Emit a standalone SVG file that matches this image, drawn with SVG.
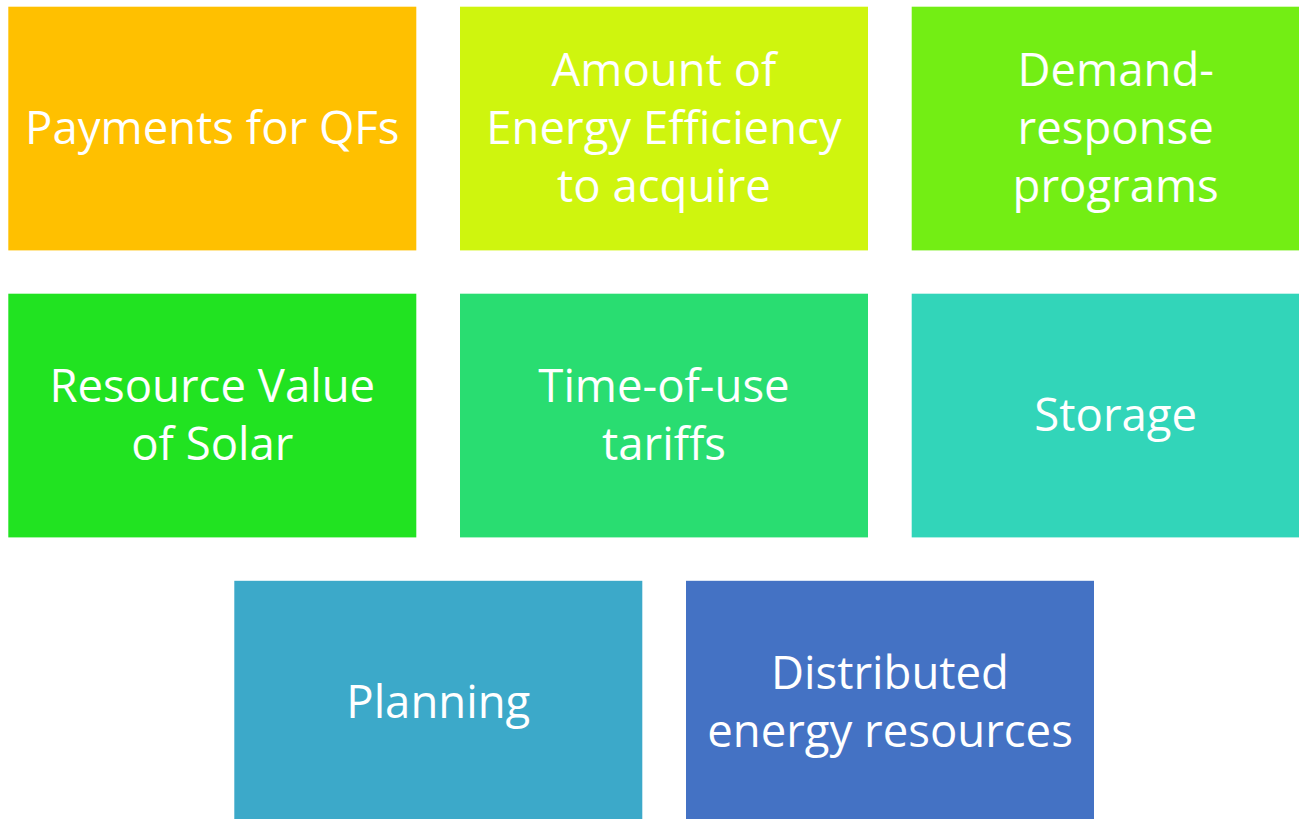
<svg xmlns="http://www.w3.org/2000/svg" width="1299" height="819" viewBox="0 0 1299 819">
<style>
rect{stroke:none}
text{font-family:"Open Sans","Liberation Sans",sans-serif;font-size:45.5px;fill:#ffffff;text-anchor:middle}
</style>
<rect width="1299" height="819" fill="#ffffff"/>
<g id="n1"><rect x="8.3" y="6.7" width="408" height="243.7" fill="#FFC000"/><text x="212.3" y="144">Payments for QFs</text></g>
<g id="n2"><rect x="460" y="6.7" width="408" height="243.7" fill="#CFF50E"/><text x="664" y="86">Amount of</text><text x="664" y="144">Energy Efficiency</text><text x="664" y="202">to acquire</text></g>
<g id="n3"><rect x="911.7" y="6.7" width="388" height="243.7" fill="#73EE14"/><text x="1115.7" y="86">Demand-</text><text x="1115.7" y="144">response</text><text x="1115.7" y="202">programs</text></g>
<g id="n4"><rect x="8.3" y="293.7" width="408" height="243.7" fill="#21E321"/><text x="212.3" y="402">Resource Value</text><text x="212.3" y="460">of Solar</text></g>
<g id="n5"><rect x="460" y="293.7" width="408" height="243.7" fill="#29DD71"/><text x="664" y="402">Time-of-use</text><text x="664" y="460">tariffs</text></g>
<g id="n6"><rect x="911.7" y="293.7" width="388" height="243.7" fill="#32D5B9"/><text x="1115.7" y="431">Storage</text></g>
<g id="n7"><rect x="234.3" y="580.8" width="408" height="243.7" fill="#3CA9C9"/><text x="438.3" y="718">Planning</text></g>
<g id="n8"><rect x="686" y="580.8" width="408" height="243.7" fill="#4472C4"/><text x="890" y="689">Distributed</text><text x="890" y="747">energy resources</text></g>
<g id="connectors"/>
</svg>
